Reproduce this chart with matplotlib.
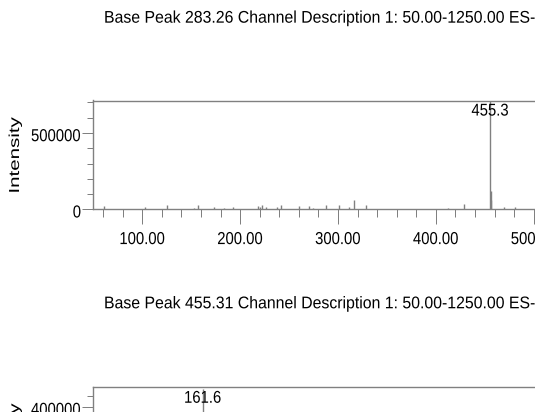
import matplotlib
matplotlib.use("Agg")
import matplotlib.pyplot as plt
from matplotlib.ticker import MultipleLocator, FuncFormatter
import matplotlib.transforms as mtransforms
from matplotlib.patheffects import AbstractPathEffect

# ---- data ----
title1 = "Base Peak 283.26 Channel Description 1: 50.00-1250.00 ES-"
title2 = "Base Peak 455.31 Channel Description 1: 50.00-1250.00 ES-"
ylabel = "Intensity"

mz1 = [61.1, 102.7, 124.9, 153.1, 156.6, 173.3, 183.8, 193.0, 217.9, 220.0,
       222.6, 226.4, 237.3, 241.7, 260.1, 270.6, 274.7, 287.7, 300.7, 311.5,
       316.6, 328.9, 412.7, 429.0, 455.3, 456.0, 456.6, 469.9, 481.2]
int1 = [20000, 13000, 26000, 7000, 26000, 15000, 7000, 13000, 20000, 13000,
        26000, 13000, 13000, 26000, 20000, 20000, 7000, 26000, 26000, 13000,
        59000, 26000, 10000, 33000, 713000, 118000, 59000, 13000, 16000]
label1_mz, label1_text = 455.3, "455.3"

mz2 = [161.6]
int2 = [480000]
label2_mz, label2_text = 161.6, "161.6"

W, H = 535, 412
DPI = 100
fig = plt.figure(figsize=(W / DPI, H / DPI), dpi=DPI)

FONT = ['Liberation Sans', 'DejaVu Sans']
GRAY = '#808080'


class Stretch(AbstractPathEffect):
    """Stretch rendered text vertically about its own centre (screen look)."""

    def __init__(self, sy=1.0, dy=0.0):
        super().__init__()
        self.sy = sy
        self.dy = dy

    def draw_path(self, renderer, gc, tpath, affine, rgbFace=None):
        ext = tpath.get_extents(affine)
        cy = 0.5 * (ext.y0 + ext.y1)
        t = affine + mtransforms.Affine2D().translate(0, -cy).scale(1, self.sy).translate(0, cy + self.dy)
        renderer.draw_path(gc, tpath, t, rgbFace)


px_per_unit = 0.9785
x0_px = 93.4
xmax = 600
ax_w_px = (xmax - 50) * px_per_unit
ax_h_px = 108.8
TICKFS = 10.7
axes = []


def make_axes(top_px, ymax, ymajor, yminor, mz, inten, lab_mz, lab_text, lab_off_px):
    bottom_px = top_px + ax_h_px
    ax = fig.add_axes([x0_px / W, 1 - bottom_px / H, ax_w_px / W, ax_h_px / H])
    ax.vlines(mz, 0, inten, colors=GRAY, linewidth=1.0)
    ax.set_xlim(50, xmax)
    ax.set_ylim(0, ymax)
    ax.spines['right'].set_visible(False)
    for s in ['left', 'top', 'bottom']:
        ax.spines[s].set_color(GRAY)
        ax.spines[s].set_linewidth(1.0)
    ax.xaxis.set_major_locator(MultipleLocator(100))
    ax.xaxis.set_minor_locator(MultipleLocator(20))
    ax.yaxis.set_major_locator(MultipleLocator(ymajor))
    ax.yaxis.set_minor_locator(MultipleLocator(yminor))
    ax.xaxis.set_major_formatter(FuncFormatter(lambda v, p: "%.2f" % v))
    ax.yaxis.set_major_formatter(FuncFormatter(lambda v, p: "%d" % v))
    ax.tick_params(axis='x', which='major', direction='out', length=15 / 1.389,
                   width=0.72, color=GRAY, pad=5.7, labelsize=TICKFS)
    ax.tick_params(axis='x', which='minor', direction='out', length=8.3 / 1.389,
                   width=0.72, color=GRAY)
    ax.tick_params(axis='y', which='major', direction='out', length=10.6 / 1.389,
                   width=0.72, color=GRAY, pad=1.2, labelsize=TICKFS)
    ax.tick_params(axis='y', which='minor', direction='out', length=5.6 / 1.389,
                   width=0.72, color=GRAY)
    trans = mtransforms.blended_transform_factory(ax.transData, ax.transAxes)
    trans = trans + mtransforms.ScaledTranslation(0, -lab_off_px / DPI, fig.dpi_scale_trans)
    ax.text(lab_mz, 1.0, lab_text, transform=trans, ha='center', va='center_baseline',
            family=FONT, fontsize=TICKFS, color='black',
            path_effects=[Stretch(1.15)])
    axes.append(ax)
    return ax


ax1 = make_axes(100.5, 713000, 500000, 100000, mz1, int1, label1_mz, label1_text, 8.8)
ax2 = make_axes(386.7, 490000, 200000, 50000, mz2, int2, label2_mz, label2_text, 9.8)

fig.text(104 / W, 1 - 22.4 / H, title1, ha='left', va='baseline',
         family=FONT, fontsize=11.4, path_effects=[Stretch(1.07)])
fig.text(104 / W, 1 - 308.0 / H, title2, ha='left', va='baseline',
         family=FONT, fontsize=11.4, path_effects=[Stretch(1.07)])

fig.text(15 / W, 1 - 155 / H, ylabel, rotation=90, ha='center', va='center',
         family=FONT, fontsize=10.4, path_effects=[Stretch(1.42)])
fig.text(15 / W, 1 - 441.3 / H, ylabel, rotation=90, ha='center', va='center',
         family=FONT, fontsize=10.4, path_effects=[Stretch(1.42)])

# stretch the tick labels like the rest of the screen text
fig.canvas.draw()
for ax in axes:
    for tk in ax.xaxis.get_major_ticks():
        tk.label1.set_family(FONT)
        tk.label1.set_path_effects([Stretch(1.17)])
    for tk in ax.yaxis.get_major_ticks():
        tk.label1.set_family(FONT)
        tk.label1.set_path_effects([Stretch(1.17, dy=-1.8)])

fig.savefig("out.png", dpi=DPI)
